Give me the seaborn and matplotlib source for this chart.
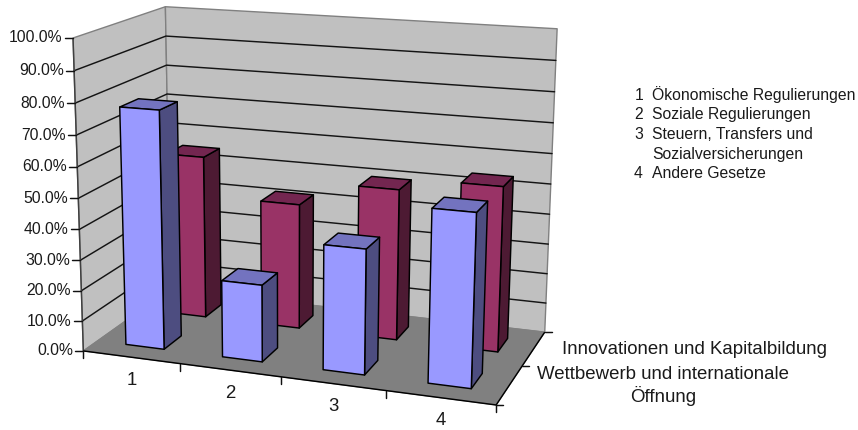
import numpy as np
import pandas as pd
import matplotlib
matplotlib.use("Agg")
import matplotlib.pyplot as plt
from matplotlib.patches import Polygon
import seaborn as sns

# Shares per law category, in percent
categories = ["1", "2", "3", "4"]
series_front = "Wettbewerb und internationale\nÖffnung"
series_back = "Innovationen und Kapitalbildung"
values_front = [77.5, 25, 40, 54.5]
values_back = [55, 42, 50, 54]
tick_values = list(range(0, 101, 10))
tick_labels = [f"{v:.1f}%" for v in tick_values]
legend_numbers = ["1", "2", "3", "", "4"]
legend_lines = ["Ökonomische Regulierungen", "Soziale Regulierungen",
                "Steuern, Transfers und", "Sozialversicherungen", "Andere Gesetze"]

sns.set_theme(style="white", rc={"font.family": ["Liberation Sans", "DejaVu Sans"]})
front_shades = sns.color_palette(["#9999FF", "#7373BF", "#4D4D80"])
back_shades = sns.color_palette(["#993366", "#732650", "#4D1A33"])
WALL, FLOOR, FRAME, INK = "#C0C0C0", "#808080", "#808080", "#000000"
TEXT = "#1A1A1A"
LW = 1.05

fig = plt.figure(figsize=(8.58, 4.30), dpi=100)
ax = fig.add_axes([0, 0, 1, 1])
ax.set_xlim(0, 858)
ax.set_ylim(430, 0)
ax.axis("off")

# Perspective camera of the chart box: box coordinates (x, depth, height), each 0..1,
# are tied to their place on the canvas and the 3x4 matrix is solved by least squares.
box_corners = np.array([[0, 0, 0], [0, 0, 1], [0, 1, 0], [0, 1, 1],
                        [1, 0, 0], [1, 1, 0], [1, 1, 1]], float)
canvas_corners = np.array([[84, 350], [72.5, 38], [170, 290], [166, 6.5],
                           [496, 406], [545, 331], [557, 29]], float)
rows = []
for (bx, by, bz), (u, v) in zip(box_corners, canvas_corners):
    p = [bx, by, bz, 1]
    rows.append(p + [0, 0, 0, 0] + [-u * c for c in p])
    rows.append([0, 0, 0, 0] + p + [-v * c for c in p])
camera = np.linalg.svd(np.array(rows))[2][-1].reshape(3, 4)


def project(points):
    pts = np.atleast_2d(np.asarray(points, float))
    hom = camera @ np.c_[pts, np.ones(len(pts))].T
    return (hom[:2] / hom[2]).T


def face(points, color, edge=INK, lw=LW, z=2):
    ax.add_patch(Polygon(project(points), closed=True, facecolor=color,
                         edgecolor=edge, linewidth=lw, joinstyle="round", zorder=z))


# Walls and floor
face([[0, 0, 0], [0, 1, 0], [0, 1, 1], [0, 0, 1]], WALL, FRAME, 1.0, 1)
face([[0, 1, 0], [1, 1, 0], [1, 1, 1], [0, 1, 1]], WALL, FRAME, 1.0, 1)
face([[0, 0, 0], [1, 0, 0], [1, 1, 0], [0, 1, 0]], FLOOR, FRAME, 0.8, 1)

# Gridlines running along the left and back walls
grid_rows = []
for v in tick_values[1:-1]:
    h = v / 100
    path = project([[0, 0, h], [0, 1, h], [1, 1, h]])
    for order, (px, py) in enumerate(path):
        grid_rows.append({"px": px, "py": py, "level": v, "order": order})
sns.lineplot(data=pd.DataFrame(grid_rows), x="px", y="py", units="level", estimator=None,
             sort=False, color="#141414", linewidth=LW, legend=False, ax=ax, zorder=1.5)
ax.set_xlim(0, 858)
ax.set_ylim(430, 0)
ax.axis("off")

# Axis frame lines
for a, b, col in [([0, 0, 0], [0, 0, 1], "#404040"), ([0, 0, 0], [1, 0, 0], "black"),
                  ([1, 0, 0], [1, 1, 0], "black")]:
    seg = project([a, b])
    ax.plot(seg[:, 0], seg[:, 1], color=col, lw=LW, zorder=1.8, solid_capstyle="butt")

# Value axis ticks and labels
for v, label in zip(tick_values, tick_labels):
    px, py = project([0, 0, v / 100])[0]
    ax.plot([px - 8, px], [py, py], color="#111111", lw=LW, zorder=1.8)
    ax.text(px - 10.5, py, label, ha="right", va="center", fontsize=11.3, color=TEXT)

# Category axis ticks and labels
n = len(categories)
for i in range(n + 1):
    px, py = project([i / n, 0, 0])[0]
    ax.plot([px, px], [py, py + 7], color="#111111", lw=LW, zorder=1.8)
for i, label in enumerate(categories):
    px, py = project([(i + 0.5) / n, 0, 0])[0]
    ax.text(px, py + 23, label, ha="center", va="center", fontsize=13.4, color=TEXT)

# Series axis ticks and labels
for d in (0, 0.5, 1):
    px, py = project([1, d, 0])[0]
    ax.plot([px, px + 7], [py, py], color="#111111", lw=LW, zorder=1.8)
ax.text(694.5, 349, series_back, ha="center", va="center", fontsize=13.4, color=TEXT)
ax.text(663, 386, series_front, ha="center", va="center", fontsize=13.4,
        color=TEXT, linespacing=1.2)


def draw_bar(slot, depth_slot, value, shades, z):
    """One box: 40 % of its category and series slot, as with a gap width of 150."""
    x0, x1 = (slot + 0.3) / n, (slot + 0.7) / n
    y0, y1 = (depth_slot + 0.3) / 2, (depth_slot + 0.7) / 2
    h = value / 100
    face([[x1, y0, 0], [x1, y1, 0], [x1, y1, h], [x1, y0, h]], shades[2], z=z)
    face([[x0, y0, h], [x1, y0, h], [x1, y1, h], [x0, y1, h]], shades[1], z=z)
    face([[x0, y0, 0], [x1, y0, 0], [x1, y0, h], [x0, y0, h]], shades[0], z=z)


# Painted back row first, then left to right since the right sides face the viewer
for i, value in enumerate(values_back):
    draw_bar(i, 1, value, back_shades, 3 + i * 0.1)
for i, value in enumerate(values_front):
    draw_bar(i, 0, value, front_shades, 4 + i * 0.1)

# Number key on the right
for k, (num, line) in enumerate(zip(legend_numbers, legend_lines)):
    y = 95 + k * 19.7
    ax.text(643, y, num, ha="right", va="center", fontsize=11.3, color=TEXT)
    ax.text(652, y, line, ha="left", va="center", fontsize=11.3, color=TEXT)

fig.savefig("out.png", dpi=100, facecolor="white")
